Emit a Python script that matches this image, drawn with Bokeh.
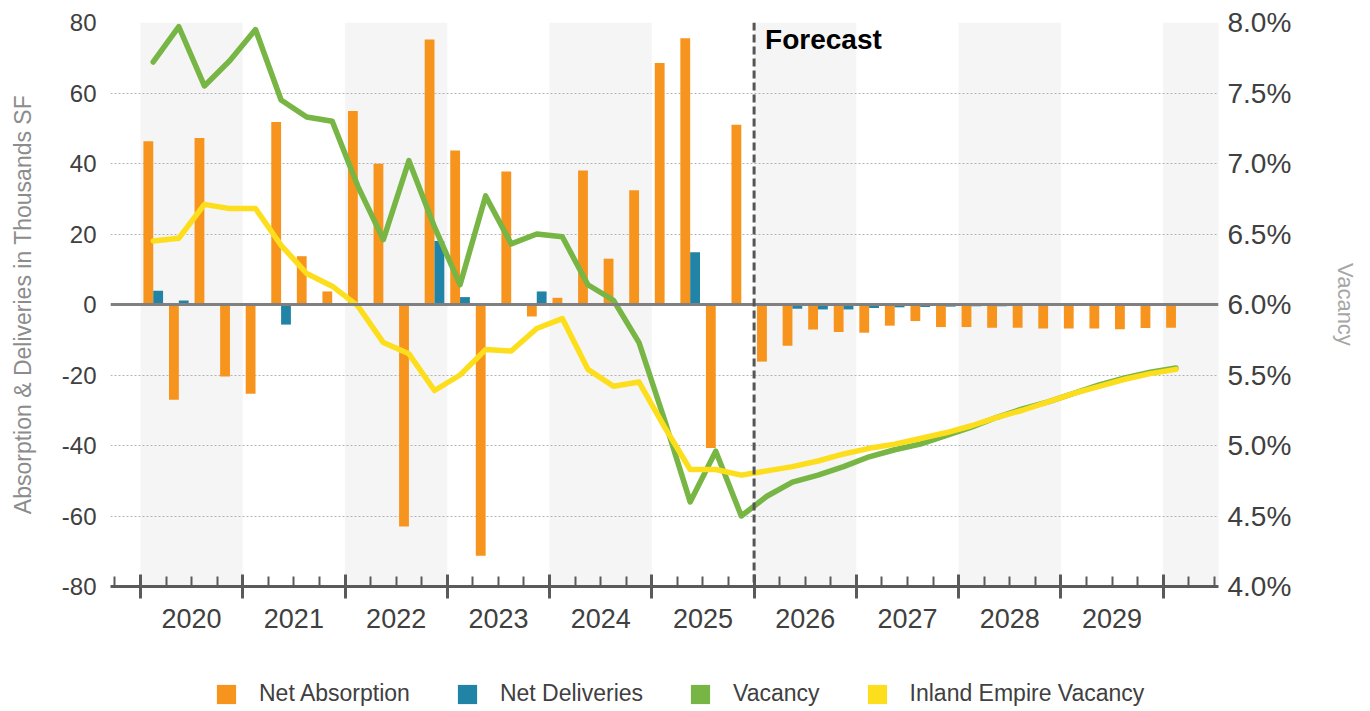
from bokeh.plotting import figure
from bokeh.layouts import column
from bokeh.models import (ColumnDataSource, Range1d, LinearAxis, FixedTicker,
                          PrintfTickFormatter, CustomJSTickFormatter, Span, Label,
                          Legend, LegendItem)
from bokeh.embed import file_html
from bokeh.resources import INLINE

# ---- data ---------------------------------------------------------------
quarters = [f"{y} Q{q}" for y in range(2020, 2030) for q in range(1, 5)] + ["2030 Q1"]
year_labels = list(range(2020, 2030))

net_absorption = [
    46.3, -27.0, 47.2, -20.4,    # 2020
    -25.3, 51.8, 13.7, 3.7,      # 2021
    54.9, 39.9, -63.0, 75.2,     # 2022
    43.7, -71.3, 37.7, -3.4,     # 2023
    1.9, 38.0, 13.0, 32.4,       # 2024
    68.5, 75.5, -40.7, 51.0,     # 2025
    -16.2, -11.7, -7.1, -7.8,    # 2026
    -8.0, -6.0, -4.7, -6.4,      # 2027
    -6.4, -6.6, -6.6, -6.8,      # 2028
    -6.8, -6.8, -7.0, -6.7,      # 2029
    -6.6,                        # 2030
]
net_deliveries = [
    3.9, 1.1, 0.0, 0.0,
    0.0, -5.7, 0.0, 0.0,
    0.0, 0.0, 0.0, 18.0,
    2.1, 0.0, 0.0, 3.7,
    0.0, 0.0, 0.0, 0.0,
    0.0, 14.8, 0.0, 0.0,
    0.0, -1.2, -1.4, -1.4,
    -1.0, -0.8, -0.7, -0.6,
    -0.5, -0.5, -0.4, -0.4,
    -0.4, -0.3, -0.3, -0.3,
    -0.3,
]
vacancy = [
    7.72, 7.97, 7.55, 7.73,
    7.95, 7.45, 7.33, 7.30,
    6.84, 6.46, 7.02, 6.55,
    6.14, 6.77, 6.43, 6.50,
    6.48, 6.14, 6.03, 5.73,
    5.18, 4.60, 4.96, 4.50,
    4.64, 4.74, 4.79, 4.85,
    4.92, 4.97, 5.01, 5.07,
    5.13, 5.20, 5.26, 5.31,
    5.37, 5.43, 5.48, 5.52,
    5.55,
]
inland_empire_vacancy = [
    6.45, 6.47, 6.71, 6.68,
    6.68, 6.42, 6.22, 6.13,
    5.99, 5.73, 5.65, 5.39,
    5.50, 5.68, 5.67, 5.83,
    5.90, 5.54, 5.42, 5.45,
    5.13, 4.83, 4.83, 4.79,
    4.82, 4.85, 4.89, 4.94,
    4.98, 5.01, 5.05, 5.09,
    5.14, 5.20, 5.25, 5.31,
    5.37, 5.42, 5.47, 5.51,
    5.54,
]
left_ticks = list(range(-80, 81, 20))
right_ticks = [4.0, 4.5, 5.0, 5.5, 6.0, 6.5, 7.0, 7.5, 8.0]
shaded_years = [2020, 2022, 2024, 2026, 2028, 2030]
forecast_start = 2026

# ---- styling ------------------------------------------------------------
FONT = "Liberation Sans"
ORANGE = "#F7941D"
BLUE = "#2183A5"
GREEN = "#77B545"
YELLOW = "#FDDE1C"
TEXT = "#404040"
AXIS = "#5a5a5a"

# quarter centres on a continuous year axis
qx = [int(q[:4]) + (int(q[-1]) - 0.5) / 4 for q in quarters]
bar_w = 0.096
src = ColumnDataSource(dict(
    xa=[x - bar_w / 2 for x in qx],
    xd=[x + bar_w / 2 for x in qx],
    x=qx,
    absorption=net_absorption,
    deliveries=net_deliveries,
    vac=vacancy,
    ie=inland_empire_vacancy,
))

p = figure(width=1370, height=640,
           x_range=Range1d(2019.707, 2030.541), y_range=Range1d(-80, 80),
           x_axis_type=None, output_backend="svg", toolbar_location=None,
           min_border_left=110, min_border_right=152,
           min_border_top=22, min_border_bottom=54)
p.outline_line_color = None
p.background_fill_color = "white"
p.border_fill_color = "white"
p.extra_y_ranges = {"vac": Range1d(4.0, 8.0)}

# alternating year bands
p.quad(left=shaded_years, right=[y + 1 for y in shaded_years], bottom=-80, top=80,
       fill_color="#f5f5f5", line_color=None, level="image")

# left axis
ly = p.yaxis[0]
ly.ticker = FixedTicker(ticks=left_ticks, minor_ticks=[])
ly.formatter = PrintfTickFormatter(format="%d")
ly.axis_line_color = None
ly.major_tick_line_color = None
ly.minor_tick_line_color = None
ly.major_label_text_font = FONT
ly.major_label_text_font_size = "24px"
ly.major_label_text_color = TEXT
ly.major_label_standoff = 8
ly.axis_label = "Absorption & Deliveries in Thousands SF"
ly.axis_label_text_font = FONT
ly.axis_label_text_font_size = "23px"
ly.axis_label_text_font_style = "normal"
ly.axis_label_text_color = "#8c8c8c"
ly.axis_label_standoff = 23

p.ygrid.grid_line_color = "#b3b3b3"
p.ygrid.grid_line_dash = "2 2"
p.ygrid.grid_line_width = 1

# right axis
ry = LinearAxis(y_range_name="vac",
                ticker=FixedTicker(ticks=right_ticks, minor_ticks=[]),
                formatter=PrintfTickFormatter(format="%.1f%%"))
ry.axis_line_color = None
ry.major_tick_line_color = None
ry.minor_tick_line_color = None
ry.major_label_text_font = FONT
ry.major_label_text_font_size = "28px"
ry.major_label_text_color = TEXT
ry.major_label_standoff = 3
ry.axis_label = "Vacancy"
ry.axis_label_text_font = FONT
ry.axis_label_text_font_size = "22px"
ry.axis_label_text_font_style = "normal"
ry.axis_label_text_color = "#a6a6a6"
ry.axis_label_standoff = 39
p.add_layout(ry, "right")

# bottom axis: year boundaries and quarter ticks
minor = [2019.75 + i * 0.25 for i in range(44) if (2019.75 + i * 0.25) % 1 != 0]
bx = LinearAxis(ticker=FixedTicker(ticks=list(range(2020, 2031)), minor_ticks=minor),
                formatter=CustomJSTickFormatter(code="return ''"))
bx.axis_line_color = AXIS
bx.axis_line_width = 3
bx.major_tick_line_color = AXIS
bx.major_tick_line_width = 3
bx.major_tick_in = 12
bx.major_tick_out = 12
bx.minor_tick_line_color = AXIS
bx.minor_tick_line_width = 2
bx.minor_tick_in = 10
bx.minor_tick_out = 0
bx.major_label_text_font_size = "0px"
bx.major_label_standoff = 0
p.add_layout(bx, "below")

# year labels centred in each year
yx = LinearAxis(ticker=FixedTicker(ticks=[y + 0.5 for y in year_labels], minor_ticks=[]),
                formatter=CustomJSTickFormatter(code="return Math.floor(tick).toString()"))
yx.axis_line_color = None
yx.major_tick_line_color = None
yx.minor_tick_line_color = None
yx.major_label_text_font = FONT
yx.major_label_text_font_size = "27px"
yx.major_label_text_color = TEXT
yx.major_label_standoff = 4
p.add_layout(yx, "below")

# bars
p.vbar(x="xa", top="absorption", bottom=0, width=bar_w, source=src,
       fill_color=ORANGE, line_color=None)
p.vbar(x="xd", top="deliveries", bottom=0, width=bar_w, source=src,
       fill_color=BLUE, line_color=None)

p.add_layout(Span(location=0, dimension="width", line_color="#808080", line_width=3))

# vacancy lines
p.line(x="x", y="vac", source=src, y_range_name="vac", line_color=GREEN,
       line_width=5.5, line_join="round", line_cap="round")
p.line(x="x", y="ie", source=src, y_range_name="vac", line_color=YELLOW,
       line_width=5.5, line_join="round", line_cap="round")

# forecast divider
p.add_layout(Span(location=forecast_start, dimension="height", line_color="#555555",
                  line_width=3, line_dash="8 4"))
p.add_layout(Label(x=forecast_start, y=80, x_offset=11, y_offset=-1, text="Forecast",
                   text_font=FONT, text_font_size="28px", text_font_style="bold",
                   text_color="black", text_baseline="top", text_align="left"))

# ---- legend strip -------------------------------------------------------
leg = figure(width=1370, height=71, x_range=Range1d(0, 1), y_range=Range1d(0, 1),
             x_axis_type=None, y_axis_type=None, output_backend="svg",
             toolbar_location=None, min_border=0)
leg.outline_line_color = None
leg.grid.visible = False
swatches = [
    ("Net Absorption", ORANGE),
    ("Net Deliveries", BLUE),
    ("Vacancy", GREEN),
    ("Inland Empire Vacancy", YELLOW),
]
items = []
for name, color in swatches:
    # zero-size proxy bar: only its legend swatch is shown
    r = leg.vbar(x=[0], top=[0], bottom=[0], width=0, fill_color=color, line_color=None)
    items.append(LegendItem(label=name, renderers=[r]))

legend = Legend(items=items, orientation="horizontal", location=(104, 4))
legend.glyph_width = 24
legend.glyph_height = 24
legend.label_standoff = 21
legend.spacing = 45
legend.padding = 0
legend.margin = 0
legend.border_line_color = None
legend.background_fill_alpha = 0
legend.label_text_font = FONT
legend.label_text_font_size = "23px"
legend.label_text_color = TEXT
leg.add_layout(legend)

open("out.html", "w").write(file_html(column(p, leg, spacing=0), INLINE))
